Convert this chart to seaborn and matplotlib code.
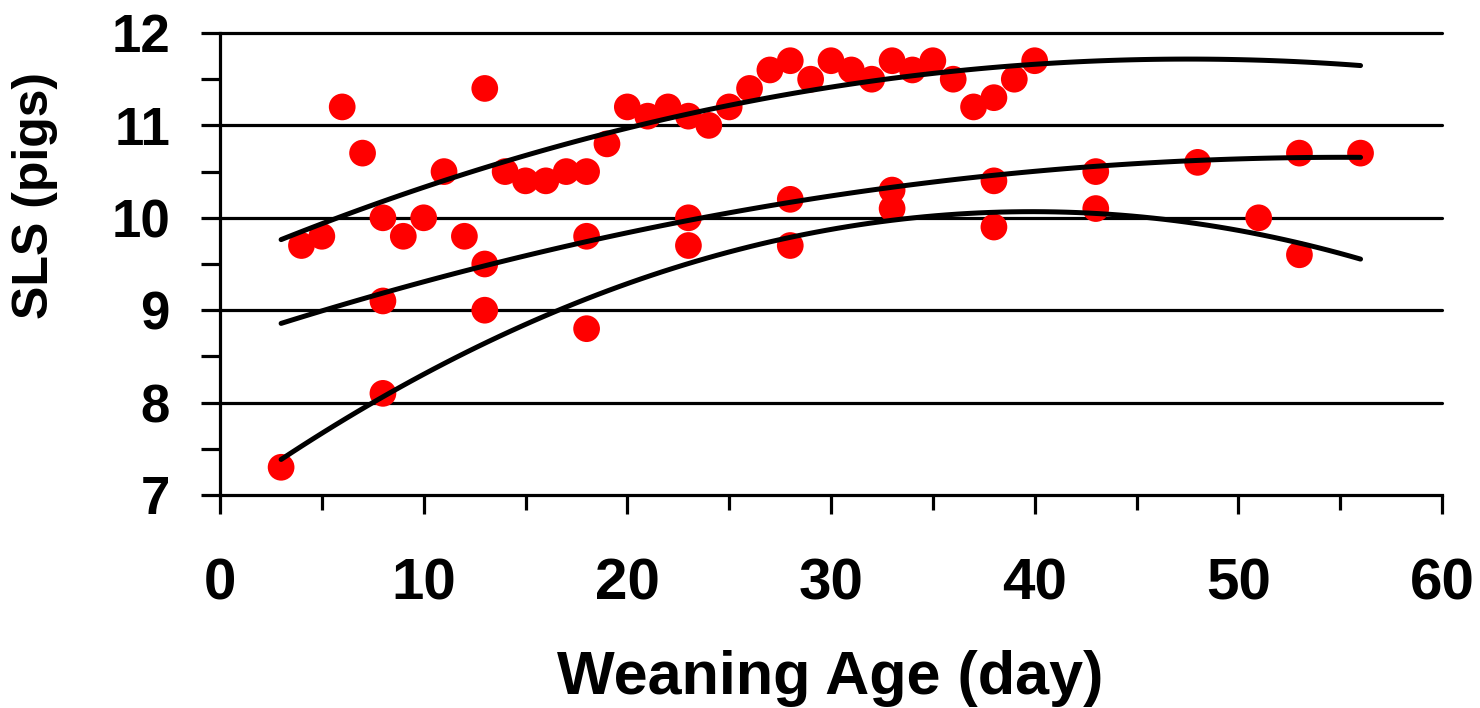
import numpy as np
import pandas as pd
import matplotlib
matplotlib.use("Agg")
import matplotlib.pyplot as plt
from matplotlib.ticker import MultipleLocator
import seaborn as sns

# ---- data ----
age = [3, 4, 5, 6, 7, 8, 8, 8, 9, 10, 11, 12, 13, 13, 13, 14, 15, 16, 17, 18, 18, 18,
       19, 20, 21, 22, 23, 23, 23, 24, 25, 26, 27, 28, 28, 28, 29, 30, 31, 32, 33, 33, 33,
       34, 35, 36, 37, 38, 38, 38, 39, 40, 43, 43, 48, 51, 53, 53, 56]
sls = [7.3, 9.7, 9.8, 11.2, 10.7, 10.0, 9.1, 8.1, 9.8, 10.0, 10.5, 9.8, 11.4, 9.5, 9.0,
       10.5, 10.4, 10.4, 10.5, 10.5, 9.8, 8.8, 10.8, 11.2, 11.1, 11.2, 11.1, 10.0, 9.7,
       11.0, 11.2, 11.4, 11.6, 11.7, 10.2, 9.7, 11.5, 11.7, 11.6, 11.5, 11.7, 10.3, 10.1,
       11.6, 11.7, 11.5, 11.2, 11.3, 10.4, 9.9, 11.5, 11.7, 10.5, 10.1, 10.6, 10.0, 10.7,
       9.6, 10.7]

curve_x = [3, 8, 13, 19, 24, 28, 33, 38, 43, 48, 53, 56]
curve_top = [9.81, 10.15, 10.5, 10.9, 11.17, 11.38, 11.52, 11.63, 11.69, 11.72, 11.70, 11.63]
curve_mid = [8.86, 9.16, 9.5, 9.8, 10.0, 10.2, 10.33, 10.44, 10.54, 10.62, 10.66, 10.66]
curve_low = [7.4, 8.08, 8.6, 9.22, 9.52, 9.8, 10.0, 10.06, 10.07, 9.95, 9.7, 9.55]

x_ticks = [0, 10, 20, 30, 40, 50, 60]
y_ticks = [7, 8, 9, 10, 11, 12]

# ---- style ----
sns.set_theme(style="white")
plt.rcParams["font.family"] = ["Liberation Sans", "DejaVu Sans"]
plt.rcParams["font.weight"] = "bold"
for k in ["text.color", "axes.labelcolor", "xtick.color", "ytick.color"]:
    plt.rcParams[k] = "black"

W, H = 1480, 708
fig = plt.figure(figsize=(W / 100, H / 100), dpi=100)
ax = fig.add_axes([220 / W, 1 - 495 / H, 1222 / W, 462 / H])

pts = pd.DataFrame({"age": age, "sls": sls})
sns.scatterplot(data=pts, x="age", y="sls", ax=ax, color="#FF0000", s=370,
                edgecolor="none", linewidth=0, zorder=2, clip_on=False)

for cy in (curve_top, curve_mid, curve_low):
    cdf = pd.DataFrame({"x": curve_x, "y": cy})
    sns.regplot(data=cdf, x="x", y="y", order=2, ci=None, scatter=False, ax=ax,
                color="black", truncate=True,
                line_kws={"linewidth": 3.6, "zorder": 3, "solid_capstyle": "round"})

ax.set_xlim(0, 60)
ax.set_ylim(7, 12)
ax.set_xticks(x_ticks)
ax.set_yticks(y_ticks)
ax.xaxis.set_minor_locator(MultipleLocator(5))
ax.yaxis.set_minor_locator(MultipleLocator(0.5))

# horizontal grid lines
for v in y_ticks[1:]:
    ax.axhline(v, color="black", linewidth=2.3, zorder=1, clip_on=False)

for s in ["top", "right"]:
    ax.spines[s].set_visible(False)
for s in ["left", "bottom"]:
    ax.spines[s].set_color("black")
    ax.spines[s].set_linewidth(2.3)

ax.tick_params(axis="y", which="both", direction="out", length=14, width=2.3,
               color="black", labelcolor="black", left=True, labelsize=38, pad=22)
ax.tick_params(axis="x", which="major", direction="out", length=14, width=2.3,
               color="black", labelcolor="black", bottom=True, labelsize=42, pad=31)
ax.tick_params(axis="x", which="minor", direction="out", length=11, width=2.3,
               color="black", bottom=True)
for lab in ax.get_xticklabels() + ax.get_yticklabels():
    lab.set_fontweight("bold")

ax.set_xlabel("Weaning Age (day)", fontsize=44, fontweight="bold", va="center",
              color="black")
ax.set_ylabel("SLS (pigs)", fontsize=36, fontweight="bold", va="center",
              color="black")
ax.xaxis.set_label_coords(0.499, -0.398)
ax.yaxis.set_label_coords(-0.151, 0.649)

fig.savefig("out.png", dpi=100)
